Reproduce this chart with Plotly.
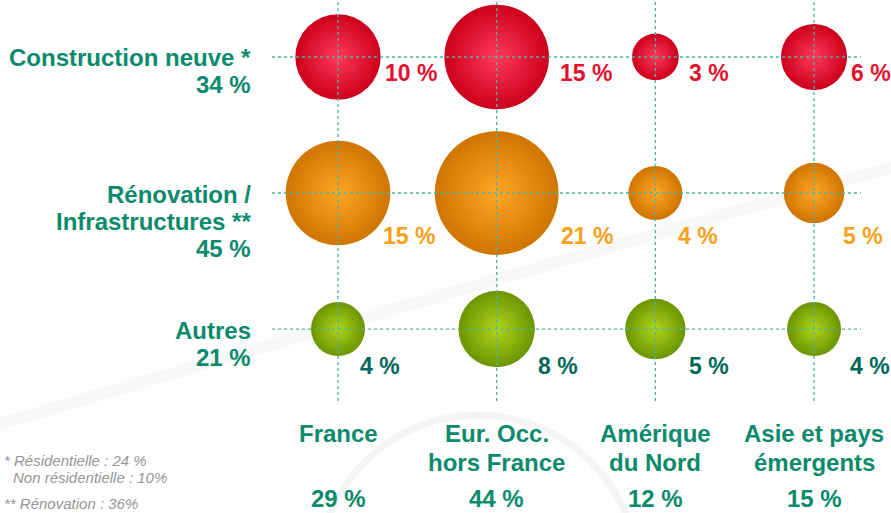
import plotly.graph_objects as go

# data
REGIONS = [["France"], ["Eur. Occ.", "hors France"], ["Amérique", "du Nord"], ["Asie et pays", "émergents"]]
REGION_TOTALS = ["29 %", "44 %", "12 %", "15 %"]
ACTIVITIES = [["Construction neuve *"], ["Rénovation /", "Infrastructures **"], ["Autres"]]
ACTIVITY_TOTALS = ["34 %", "45 %", "21 %"]
CONSTRUCTION = [10, 15, 3, 6]
RENOVATION = [15, 21, 4, 5]
AUTRES = [4, 8, 5, 4]
FOOTNOTES = ["* Résidentielle : 24 %", "Non résidentielle : 10%", "** Rénovation : 36%"]

# styles
TEAL = "#0B8A6C"
GRID = "#4FB3A3"
FONT = "Liberation Sans, Arial, sans-serif"
R_PER_SQRT = 13.5  # bubble radius (px) per sqrt(percent)
SIZEREF = 1 / (2 * R_PER_SQRT ** 2)

rows = [
    # values, row index (top = 2), center color, edge color, label color, label dy, label dx per column
    (CONSTRUCTION, 2, "#FF3A58", "#CC001C", "#E5102C", -16, [45, 61, 32, 35]),
    (RENOVATION, 1, "#FFA626", "#CF7500", "#F7A01A", -43, [43, 62, 21, 27]),
    (AUTRES, 0, "#AED41C", "#6A9500", "#00685A", -37, [20, 39, 32, 34]),
]

W, H = 891, 513
ML, MR, MT, MB = 272, 30, 0, 112
PW, PH = W - ML - MR, H - MT - MB


def px(x, y):
    """pixel -> paper coords (decoration / free text only)"""
    return (x - ML) / PW, (H - MB - y) / PH


def label_font(color, size=24):
    return dict(family=FONT, size=size, color=color, weight="bold")


fig = go.Figure()
cols = list(range(len(REGIONS)))

for vals, ri, c_in, c_out, lc, dy, dxs in rows:
    fig.add_trace(go.Scatter(
        x=cols, y=[ri] * len(cols), mode="markers",
        marker=dict(size=vals, sizemode="area", sizeref=SIZEREF, color=c_out,
                    gradient=dict(type="radial", color=c_in), line=dict(width=0), opacity=1),
        hoverinfo="skip", cliponaxis=False, showlegend=False,
    ))
    for ci, (v, dx) in enumerate(zip(vals, dxs)):
        fig.add_annotation(
            x=ci, y=ri, text=f"{v} %", showarrow=False, xanchor="left", yanchor="middle",
            xshift=dx, yshift=dy, font=label_font(lc, 23),
        )

# dotted grid drawn above bubbles
shapes = []
for ci in cols:
    shapes.append(dict(type="line", xref="x", yref="paper", x0=ci, x1=ci, y0=0, y1=1, layer="above",
                       line=dict(color=GRID, width=1.3, dash="dot")))
for r in rows:
    shapes.append(dict(type="line", xref="paper", yref="y", x0=0, x1=1, y0=r[1], y1=r[1], layer="above",
                       line=dict(color=GRID, width=1.3, dash="dot")))

# faint background swooshes
cx, cy, rad = 478, 575, 160
x0, y0 = px(cx - rad, cy - rad)
x1, y1 = px(cx + rad, cy + rad)
shapes.append(dict(type="circle", xref="paper", yref="paper", x0=x0, y0=y0, x1=x1, y1=y1,
                   layer="below", line=dict(color="#F4F4F4", width=7)))
a, b, c = px(-20, 430), px(420, 300), px(900, 165)
shapes.append(dict(type="path", xref="paper", yref="paper", layer="below",
                   path=f"M {a[0]},{a[1]} Q {b[0]},{b[1]} {c[0]},{c[1]}",
                   line=dict(color="#F8F8F8", width=12)))

# row labels (one annotation per line)
LINE_GAP = 27
for r, name, tot in zip(rows, ACTIVITIES, ACTIVITY_TOTALS):
    for k, line in enumerate(name + [tot]):
        fig.add_annotation(
            xref="paper", x=0, y=r[1], xanchor="right", yanchor="middle", xshift=-19, yshift=-1 - k * LINE_GAP,
            text=line, showarrow=False, font=label_font(TEAL),
        )

# column labels and totals
for ci, (name, tot) in enumerate(zip(REGIONS, REGION_TOTALS)):
    for k, line in enumerate(name):
        fig.add_annotation(x=ci, yref="paper", y=0, yanchor="middle", yshift=-(32 + k * 29),
                           text=line, showarrow=False, font=label_font(TEAL))
    fig.add_annotation(x=ci, yref="paper", y=0, yanchor="middle", yshift=-97,
                       text=tot, showarrow=False, font=label_font(TEAL))

# footnotes
for (fx, fy), t in zip([px(2, 460), px(11, 477), px(2, 504)], FOOTNOTES):
    fig.add_annotation(xref="paper", yref="paper", x=fx, y=fy, xanchor="left", yanchor="middle",
                       text=f"<i>{t}</i>", showarrow=False,
                       font=dict(family=FONT, size=15, color="#959595"))

fig.update_layout(
    width=W, height=H, margin=dict(l=ML, r=MR, t=MT, b=MB),
    paper_bgcolor="white", plot_bgcolor="rgba(0,0,0,0)",
    shapes=shapes,
    xaxis=dict(range=[-0.416, 3.296], showgrid=False, zeroline=False, showticklabels=False, fixedrange=True),
    yaxis=dict(range=[-0.529, 2.419], showgrid=False, zeroline=False, showticklabels=False, fixedrange=True),
)

fig.write_html("out.html", config={"displayModeBar": False},
               post_script="document.body.style.margin='0';")
